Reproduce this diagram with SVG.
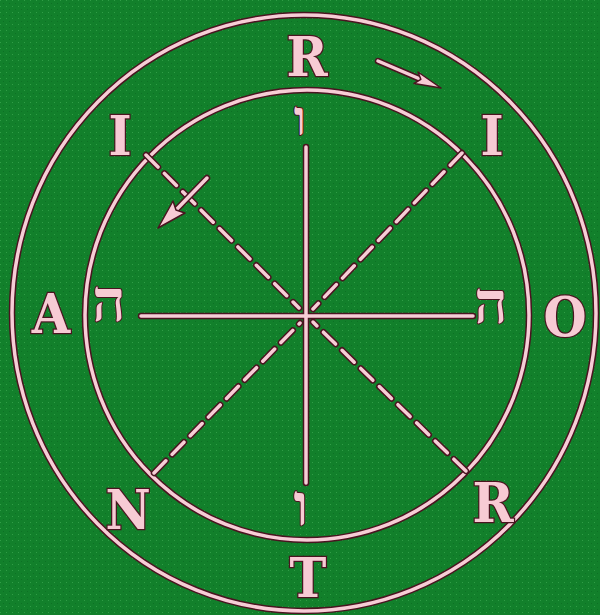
<svg xmlns="http://www.w3.org/2000/svg" xmlns:xlink="http://www.w3.org/1999/xlink" width="600" height="615" viewBox="0 0 600 615">
<style>
.under{fill:none;stroke:#4a1420;stroke-width:6.5;stroke-linecap:round}
.over{fill:none;stroke:#f7cdd6;stroke-width:3.5;stroke-linecap:round}
.dash{stroke-dasharray:17 9}
.lat{font-family:"DejaVu Serif Condensed","DejaVu Serif","Liberation Serif",serif;font-stretch:condensed;font-size:55px;font-weight:bold;fill:#f7cbd4;stroke:#4a1420;stroke-width:2.5;paint-order:stroke;text-anchor:middle}
.heb{font-family:"Liberation Serif","DejaVu Sans",serif;font-size:58px;font-weight:bold;fill:#f7cbd4;stroke:#4a1420;stroke-width:2;paint-order:stroke;text-anchor:middle}
.head{fill:#f7cbd4;stroke:#4a1420;stroke-width:1.5;stroke-linejoin:round}
</style>
<defs>
<pattern id="tex" width="6" height="6" patternUnits="userSpaceOnUse">
<rect width="6" height="6" fill="#12802b"/>
<rect x="0" y="0" width="1" height="1" fill="#45b058" opacity="0.6"/>
<rect x="3" y="3" width="1" height="1" fill="#0c6a22" opacity="0.7"/>
</pattern>
<g id="circles">
<ellipse cx="304" cy="313" rx="292" ry="298"/>
<ellipse cx="307" cy="315" rx="222" ry="225"/>
</g>
<g id="solid">
<line x1="306" y1="147" x2="306" y2="483"/>
<line x1="141" y1="316" x2="473" y2="316"/>
</g>
<g id="dashed">
<line x1="146" y1="155" x2="299" y2="308"/>
<line x1="462" y1="153" x2="313" y2="309"/>
<line x1="154" y1="473" x2="300" y2="323"/>
<line x1="466" y1="471" x2="313" y2="322"/>
</g>
<g id="shafts">
<line x1="378" y1="61" x2="420" y2="79"/>
<line x1="207" y1="178" x2="176" y2="210"/>
</g>
</defs>
<rect width="600" height="615" fill="url(#tex)"/>
<g id="connectors">
<use xlink:href="#circles" class="under"/>
<use xlink:href="#circles" class="over"/>
<use xlink:href="#solid" class="under"/>
<use xlink:href="#solid" class="over"/>
<use xlink:href="#dashed" class="under dash"/>
<use xlink:href="#dashed" class="over dash"/>
<use xlink:href="#shafts" class="under"/>
<use xlink:href="#shafts" class="over"/>
<polygon class="head" points="441,88 414,83.5 420.8,79.3 418,72"/>
<polygon class="head" points="158,228 185,213 176,210 173,201"/>
</g>
<g id="n-R-top"><text class="lat" x="307" y="76">R</text></g>
<g id="n-I-left"><text class="lat" x="120" y="155">I</text></g>
<g id="n-I-right"><text class="lat" x="492" y="155">I</text></g>
<g id="n-A"><text class="lat" x="51" y="333">A</text></g>
<g id="n-O"><text class="lat" x="565" y="336">O</text></g>
<g id="n-N"><text class="lat" x="128" y="529">N</text></g>
<g id="n-R-bottom"><text class="lat" x="493" y="522">R</text></g>
<g id="n-T"><text class="lat" x="308" y="597">T</text></g>
<g id="n-vav-top"><text class="heb" x="300" y="135" style="font-size:48px">ו</text></g>
<g id="n-vav-bottom"><text class="heb" x="301" y="525">ו</text></g>
<g id="n-he-left"><text class="heb" x="109" y="321">ה</text></g>
<g id="n-he-right"><text class="heb" x="491" y="323">ה</text></g>
</svg>
